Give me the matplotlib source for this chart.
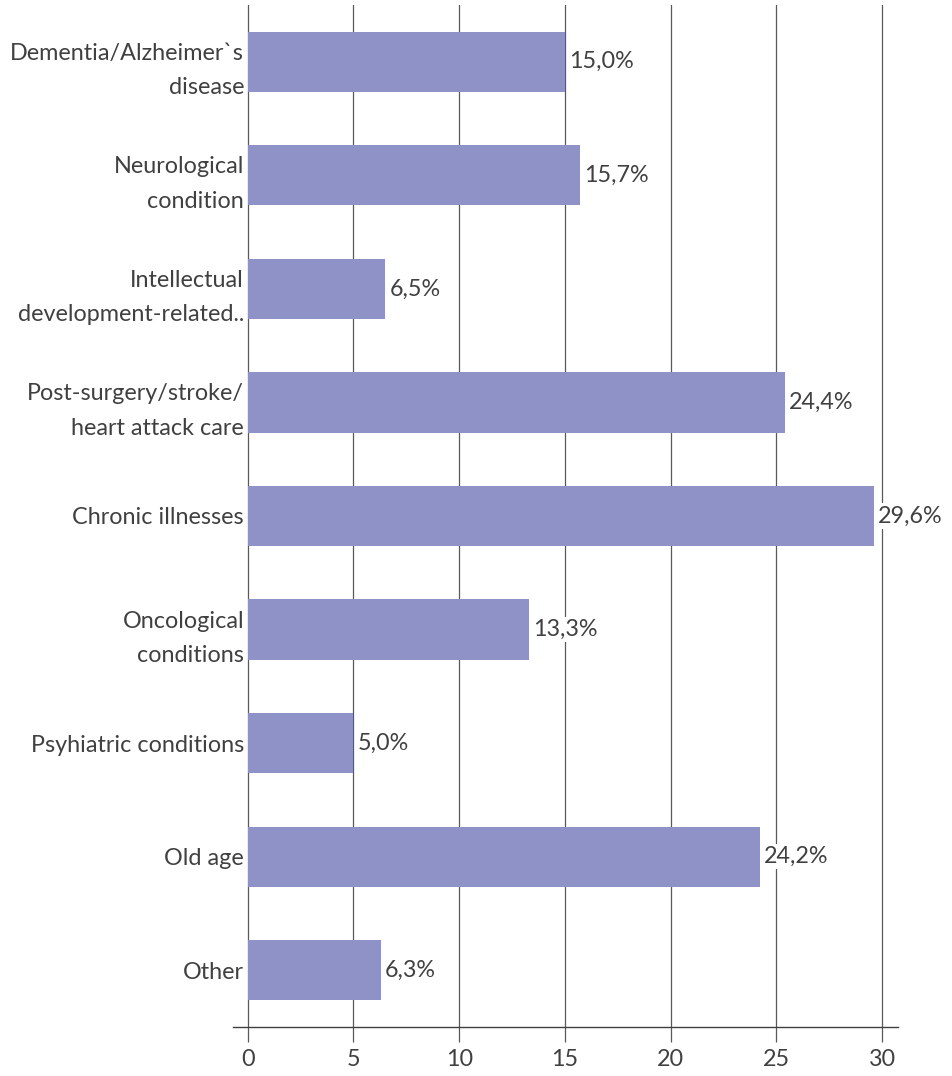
import matplotlib
matplotlib.use('Agg')
import matplotlib.pyplot as plt

plt.rcParams['font.family'] = ['Lato', 'DejaVu Sans']

categories = [
    'Dementia/Alzheimer`s\ndisease',
    'Neurological\ncondition',
    'Intellectual\ndevelopment-related..',
    'Post-surgery/stroke/\nheart attack care',
    'Chronic illnesses',
    'Oncological\nconditions',
    'Psyhiatric conditions',
    'Old age',
    'Other',
]
values = [15.0, 15.7, 6.5, 25.4, 29.6, 13.3, 5.0, 24.2, 6.3]
value_labels = ['15,0%', '15,7%', '6,5%', '24,4%', '29,6%', '13,3%', '5,0%', '24,2%', '6,3%']
xticks = [0, 5, 10, 15, 20, 25, 30]

bar_color = '#8E92C6'
text_color = '#404040'
grid_color = '#595959'
fs = 16.8

fig = plt.figure(figsize=(9.52, 10.76), dpi=100)
ax = fig.add_axes([0.2447, 0.0455, 0.6986, 0.9499])

pos = list(range(len(categories)))
ax.barh(pos, values, height=0.53, color=bar_color, zorder=2)

for x in xticks:
    ax.axvline(x, color=grid_color, lw=0.9, zorder=1)

for p, v, lab in zip(pos, values, value_labels):
    ax.annotate(lab, (v, p), xytext=(3, 0), textcoords='offset points',
                ha='left', va='center', fontsize=fs, color=text_color,
                bbox=dict(facecolor='white', edgecolor='none', pad=1.5), zorder=3)

ax.set_xlim(-0.7, 30.75)
ax.set_ylim(len(categories) - 0.5, -0.5)

ax.set_xticks(xticks)
ax.set_xticklabels([str(t) for t in xticks], fontsize=fs, color=text_color)
ax.tick_params(axis='x', direction='out', length=11, width=0.9, color=grid_color, pad=5)

ax.set_yticks(pos)
ax.set_yticklabels(categories, fontsize=fs, color=text_color, linespacing=1.8)
ax.tick_params(axis='y', length=0, pad=-8)

for side in ['top', 'right', 'left']:
    ax.spines[side].set_visible(False)
ax.spines['bottom'].set_color('#404040')
ax.spines['bottom'].set_linewidth(1.0)

fig.savefig('out.png', dpi=100)
